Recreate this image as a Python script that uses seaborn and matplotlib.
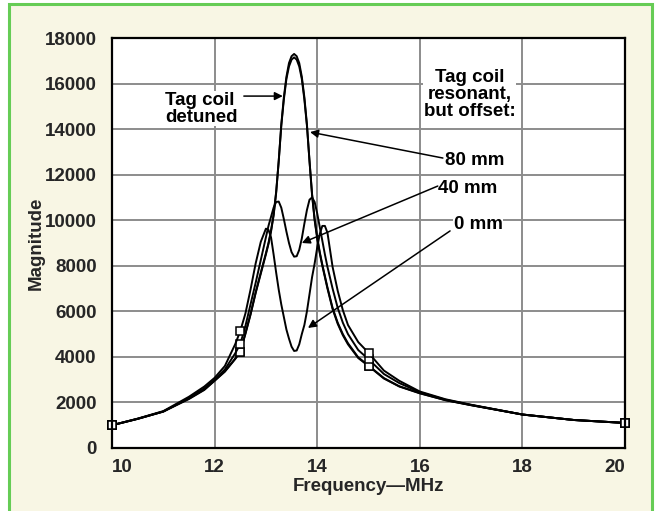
import matplotlib
matplotlib.use("Agg")
import matplotlib.pyplot as plt
from matplotlib.patches import Rectangle
import pandas as pd
import seaborn as sns

# frequency grid (MHz), shared by all four traces
freq = [10.0, 10.5, 11.0, 11.5, 11.8, 12.0, 12.2, 12.4, 12.5, 12.6, 12.7, 12.8, 12.9,
        13.0, 13.05, 13.1, 13.15, 13.2, 13.25, 13.3, 13.35, 13.4, 13.45, 13.5, 13.55,
        13.6, 13.65, 13.7, 13.75, 13.8, 13.85, 13.9, 13.95, 14.0, 14.05, 14.1, 14.15,
        14.2, 14.3, 14.4, 14.5, 14.6, 14.8, 15.0, 15.3, 15.6, 16.0, 16.5, 17.0, 18.0,
        19.0, 20.0]

detuned = [1000, 1280, 1600, 2150, 2550, 2950, 3350, 3900, 4210, 5000, 5850, 6800, 7650,
           8500, 8950, 9500, 10200, 11200, 12600, 14200, 15400, 16300, 16900, 17200, 17300,
           17200, 16900, 16300, 15400, 14200, 12600, 11100, 10000, 9200, 8550, 8000, 7500,
           7000, 6100, 5450, 4950, 4550, 3950, 3600, 3050, 2700, 2400, 2100, 1880, 1470,
           1230, 1100]

offset_80 = [1000, 1280, 1600, 2170, 2570, 2960, 3370, 3920, 4230, 5030, 5880, 6830, 7700,
             8550, 9000, 9560, 10250, 11250, 12600, 14150, 15300, 16200, 16750, 17050, 17150,
             17050, 16750, 16200, 15300, 14150, 12600, 11150, 10050, 9250, 8600, 8050, 7550,
             7050, 6150, 5500, 5000, 4600, 3980, 3620, 3070, 2710, 2410, 2100, 1880, 1470,
             1230, 1100]

offset_40 = [1000, 1280, 1600, 2200, 2620, 3000, 3450, 4150, 4560, 5350, 6300, 7250, 8250,
             9250, 9750, 10150, 10550, 10800, 10820, 10550, 10050, 9500, 9000, 8600, 8400,
             8420, 8700, 9200, 9850, 10450, 10900, 11000, 10800, 10300, 9700, 9100, 8500,
             7950, 7000, 6150, 5500, 5000, 4300, 3900, 3250, 2850, 2450, 2120, 1890, 1470,
             1230, 1100]

offset_0 = [1000, 1290, 1620, 2250, 2700, 3080, 3600, 4550, 5130, 5900, 6950, 8100, 9050,
            9630, 9580, 9250, 8500, 7700, 6950, 6300, 5750, 5200, 4800, 4450, 4260,
            4280, 4550, 5000, 5400, 6000, 6750, 7500, 8100, 8800, 9400, 9750, 9750,
            9450, 7950, 6900, 6050, 5400, 4650, 4180, 3400, 2950, 2480, 2140, 1900, 1470,
            1230, 1100]

series_names = ["Tag coil detuned", "80 mm", "40 mm", "0 mm"]
marker_freqs = [10.0, 12.5, 15.0, 20.0]

x_ticks = [10, 12, 14, 16, 18, 20]
y_ticks = list(range(0, 18001, 2000))

CREAM = "#f8f6e4"
GREEN = "#66cc55"
FONT = "Liberation Sans"
FS = 13.5

df = pd.concat([
    pd.DataFrame({"freq": freq, "mag": vals, "series": name})
    for name, vals in zip(series_names, [detuned, offset_80, offset_40, offset_0])
])
marker_idx = [freq.index(f) for f in marker_freqs]

sns.set_style("white")
plt.rcParams["font.family"] = [FONT, "DejaVu Sans"]
plt.rcParams["font.weight"] = "bold"

fig = plt.figure(figsize=(6.57, 5.11), dpi=100, facecolor="white")
fig.patches.append(Rectangle((8.5 / 657, -0.05), (652 - 8.5) / 657, 1.05 - 4.5 / 511,
                             transform=fig.transFigure, facecolor=CREAM,
                             edgecolor=GREEN, linewidth=2.2, zorder=-10))
ax = fig.add_axes([112 / 657, 1 - 448 / 511, 513 / 657, 410 / 511])
ax.set_facecolor("white")

sns.lineplot(data=df, x="freq", y="mag", hue="series", palette=["black"] * 4,
             hue_order=series_names, legend=False, ax=ax, sort=False,
             linewidth=1.4, marker="s", markevery=marker_idx, markersize=6,
             markerfacecolor="white", markeredgecolor="black", markeredgewidth=1.1,
             zorder=3, clip_on=False)

ax.set_xlim(10, 20)
ax.set_ylim(0, 18000)
ax.set_xticks(x_ticks)
ax.set_yticks(y_ticks)
ax.grid(True, color="#8c8c8c", linewidth=1.4)
ax.set_axisbelow(True)
for sp in ax.spines.values():
    sp.set_color("black")
    sp.set_linewidth(1.6)
    sp.set_zorder(5)

ax.tick_params(axis="both", length=0, labelsize=FS, pad=8)
ax.tick_params(axis="y", pad=11)
for lab in ax.get_xticklabels() + ax.get_yticklabels():
    lab.set_fontweight("bold")
xl = ax.get_xticklabels()
xl[0].set_ha("left")
xl[-1].set_ha("right")

ax.set_xlabel("Frequency\u2014MHz", fontsize=FS, fontweight="bold")
ax.set_ylabel("Magnitude", fontsize=FS, fontweight="bold")
ax.xaxis.set_label_coords(0.5, -0.073)
ax.yaxis.set_label_coords(-0.132, 0.5)

txt = dict(fontsize=FS, fontweight="bold", color="black",
           bbox=dict(facecolor="white", edgecolor="none", pad=0.5), zorder=6)
arrow = dict(arrowstyle="-|>", color="black", lw=1.1, mutation_scale=12,
             shrinkA=0, shrinkB=0)

ax.text(11.03, 14900, "Tag coil\ndetuned", ha="left", va="center",
        linespacing=1.0, **txt)
ax.annotate("", xy=(13.33, 15450), xytext=(12.57, 15450), arrowprops=arrow, zorder=6)

ax.text(16.97, 15500, "Tag coil\nresonant,\nbut offset:", ha="center", va="center",
        linespacing=1.0, **txt)

ax.text(16.49, 12640, "80 mm", ha="left", va="center", **txt)
ax.annotate("", xy=(13.86, 13870), xytext=(16.45, 12730), arrowprops=arrow, zorder=6)

ax.text(16.36, 11410, "40 mm", ha="left", va="center", **txt)
ax.annotate("", xy=(13.70, 9000), xytext=(16.35, 11500), arrowprops=arrow, zorder=6)

ax.text(16.66, 9830, "0 mm", ha="left", va="center", **txt)
ax.annotate("", xy=(13.82, 5270), xytext=(16.59, 9530), arrowprops=arrow, zorder=6)

fig.savefig("out.png", dpi=100, facecolor=fig.get_facecolor())
